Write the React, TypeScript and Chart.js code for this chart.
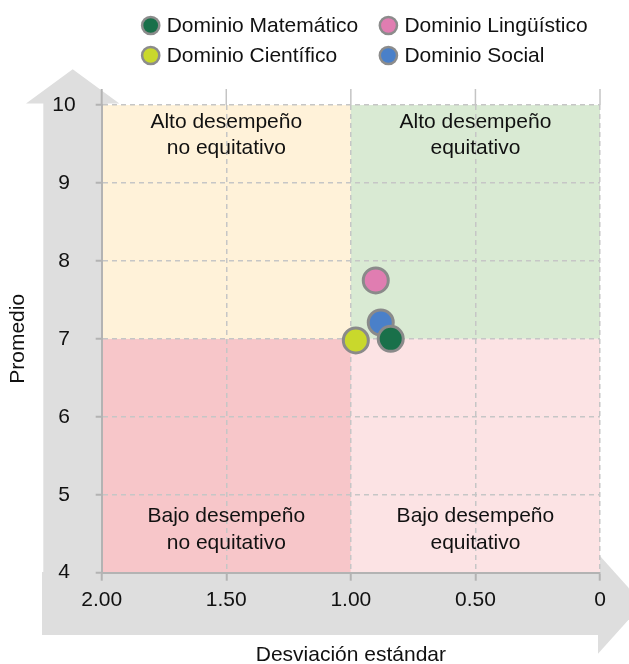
import React, { useEffect, useRef } from 'react';
import { Chart, registerables } from 'chart.js';

Chart.register(...registerables);

const FONT = '"Liberation Sans", Arial, Helvetica, sans-serif';

// ---- data ----
const seriesNames = ['Dominio Matemático', 'Dominio Lingüístico', 'Dominio Científico', 'Dominio Social'];
const seriesColors = ['#19704A', '#E07DB1', '#C9D82C', '#4A80C9'];
const stdDevValues = [0.84, 0.9, 0.98, 0.88];
const averageValues = [7.0, 7.75, 6.98, 7.21];

const xTickValues = [0, 0.5, 1, 1.5, 2];
const xTickLabels = ['0', '0.50', '1.00', '1.50', '2.00'];
const yTickValues = [4, 5, 6, 7, 8, 9, 10];
const yTickLabels = ['4', '5', '6', '7', '8', '9', '10'];

const xTitle = 'Desviación estándar';
const yTitle = 'Promedio';

const xThreshold = 1;
const yThreshold = 7;
const quadrantLines = [
  ['Alto desempeño', 'no equitativo'],
  ['Alto desempeño', 'equitativo'],
  ['Bajo desempeño', 'no equitativo'],
  ['Bajo desempeño', 'equitativo'],
];
const quadrantColors = ['#FFF2D9', '#D9EAD3', '#F7C6C9', '#FCE3E4'];

// ---- plugins ----
const backgroundPlugin = {
  id: 'quadrantBackground',
  beforeDraw(chart: any) {
    const { ctx, chartArea: ca, scales } = chart;
    const xs = scales.x;
    const ys = scales.y;
    ctx.save();
    // gray arrows
    ctx.fillStyle = '#DEDEDE';
    const shaftL = ca.left - 58.4;
    ctx.fillRect(shaftL, ca.top - 2, ca.left + 6 - shaftL, ca.bottom + 62.3 - (ca.top - 2));
    const cx = ca.left - 29;
    ctx.beginPath();
    ctx.moveTo(cx - 46.7, ca.top - 1.5);
    ctx.lineTo(cx, ca.top - 35.7);
    ctx.lineTo(cx + 46.7, ca.top - 1.5);
    ctx.closePath();
    ctx.fill();
    const hL = ca.left - 59.7;
    ctx.fillRect(hL, ca.bottom - 0.7, ca.right - 1 - hL, 63);
    const cy = ca.bottom + 31;
    ctx.beginPath();
    ctx.moveTo(ca.right - 2, cy - 50);
    ctx.lineTo(ca.right + 43, cy);
    ctx.lineTo(ca.right - 2, cy + 50);
    ctx.closePath();
    ctx.fill();

    // quadrants
    const xMid = xs.getPixelForValue(xThreshold);
    const yMid = ys.getPixelForValue(yThreshold);
    const xHigh = xs.getPixelForValue(xs.max); // left (reversed)
    const xLow = xs.getPixelForValue(xs.min); // right
    const yTop = ys.getPixelForValue(ys.max);
    const yBot = ys.getPixelForValue(ys.min);
    ctx.fillStyle = quadrantColors[0];
    ctx.fillRect(xHigh, yTop, xMid - xHigh, yMid - yTop);
    ctx.fillStyle = quadrantColors[1];
    ctx.fillRect(xMid, yTop, xLow - xMid, yMid - yTop);
    ctx.fillStyle = quadrantColors[2];
    ctx.fillRect(xHigh, yMid, xMid - xHigh, yBot - yMid);
    ctx.fillStyle = quadrantColors[3];
    ctx.fillRect(xMid, yMid, xLow - xMid, yBot - yMid);

    // marks above the plot
    ctx.strokeStyle = '#C4C4C4';
    ctx.lineWidth = 1.5;
    xTickValues.forEach((v) => {
      if (v === xs.max) return;
      const px = xs.getPixelForValue(v);
      ctx.beginPath();
      ctx.moveTo(px, ca.top - 16);
      ctx.lineTo(px, ca.top);
      ctx.stroke();
    });
    ctx.strokeStyle = '#B3B3B3';
    ctx.lineWidth = 2;
    const ax = xs.getPixelForValue(xs.max);
    ctx.beginPath();
    ctx.moveTo(ax, ca.top - 16);
    ctx.lineTo(ax, ca.top);
    ctx.stroke();
    ctx.restore();
  },
};

const quadrantLabelPlugin = {
  id: 'quadrantLabels',
  beforeDatasetsDraw(chart: any) {
    const { ctx, scales } = chart;
    const xs = scales.x;
    const ys = scales.y;
    const xMid = xs.getPixelForValue(xThreshold);
    const xHigh = xs.getPixelForValue(xs.max);
    const xLow = xs.getPixelForValue(xs.min);
    const yTop = ys.getPixelForValue(ys.max);
    const yBot = ys.getPixelForValue(ys.min);
    const lh = 26.6;
    ctx.save();
    ctx.font = `21px ${FONT}`;
    ctx.fillStyle = '#111';
    ctx.textAlign = 'center';
    ctx.textBaseline = 'middle';
    const centers = [(xHigh + xMid) / 2, (xMid + xLow) / 2];
    quadrantLines.forEach((lines, i) => {
      const cx = centers[i % 2];
      const top = i < 2;
      lines.forEach((t, j) => {
        const y = top ? yTop + 17 + j * lh : yBot - 29.7 - (lines.length - 1 - j) * lh;
        ctx.fillText(t, cx, y);
      });
    });
    ctx.restore();
  },
};

const gridLegendPlugin = {
  id: 'gridLegend',
  afterDraw(chart: any) {
    const { ctx, chartArea: ca } = chart;
    const datasets = chart.data.datasets;
    ctx.save();
    ctx.font = `21px ${FONT}`;
    ctx.textBaseline = 'middle';
    ctx.textAlign = 'left';
    let maxW = 0;
    datasets.forEach((d: any, i: number) => {
      if (i % 2 === 0) maxW = Math.max(maxW, ctx.measureText(d.label).width);
    });
    const col0 = ca.left + 49;
    const col1 = col0 + 16 + maxW + 30.3;
    datasets.forEach((d: any, i: number) => {
      const cx = i % 2 === 0 ? col0 : col1;
      const cy = ca.top - 79.5 + Math.floor(i / 2) * 30;
      ctx.beginPath();
      ctx.arc(cx, cy, 8.6, 0, Math.PI * 2);
      ctx.fillStyle = d.backgroundColor;
      ctx.fill();
      ctx.lineWidth = 2.5;
      ctx.strokeStyle = '#8C8C8C';
      ctx.stroke();
      ctx.fillStyle = '#111';
      ctx.fillText(d.label, cx + 16, cy + 1);
    });
    ctx.restore();
  },
};

export default function App() {
  const canvasRef = useRef<HTMLCanvasElement | null>(null);

  useEffect(() => {
    if (!canvasRef.current) return;
    Chart.defaults.font.family = FONT;
    const datasets = seriesNames.map((name, i) => ({
      label: name,
      data: [{ x: stdDevValues[i], y: averageValues[i] }],
      backgroundColor: seriesColors[i],
      borderColor: '#8A8A8A',
      borderWidth: 3,
      pointRadius: 12.5,
      pointHoverRadius: 12.5,
      pointBorderWidth: 3,
      pointHoverBorderWidth: 3,
    }));
    const chart = new Chart(canvasRef.current, {
      type: 'scatter',
      data: { datasets },
      options: {
        responsive: true,
        maintainAspectRatio: false,
        animation: false,
        events: [],
        layout: { padding: { top: 105, right: 29, bottom: 0, left: 0 } },
        plugins: {
          legend: { display: false },
          tooltip: { enabled: false },
        },
        scales: {
          x: {
            type: 'linear',
            min: 0,
            max: 2,
            reverse: true,
            afterBuildTicks: (s: any) => {
              s.ticks = xTickValues.map((v) => ({ value: v }));
            },
            afterFit: (s: any) => {
              s.height = 91.3;
            },
            ticks: {
              callback: (v: any) => {
                const k = xTickValues.indexOf(Number(v));
                return k >= 0 ? xTickLabels[k] : '';
              },
              font: { size: 21 },
              color: '#111',
              padding: 7,
              maxRotation: 0,
              autoSkip: false,
            },
            grid: {
              color: '#C6C6C6',
              lineWidth: 1.5,
              tickLength: 8,
              tickColor: '#B3B3B3',
              tickWidth: 2,
            },
            border: { display: true, color: '#B3B3B3', width: 2, dash: [5, 4] },
            title: {
              display: true,
              text: xTitle,
              font: { size: 21, lineHeight: 0.8 },
              color: '#111',
              padding: { top: 0, bottom: 0 },
            },
          },
          y: {
            type: 'linear',
            min: 4,
            max: 10,
            afterBuildTicks: (s: any) => {
              s.ticks = yTickValues.map((v) => ({ value: v }));
            },
            afterFit: (s: any) => {
              s.width = 101.7;
            },
            ticks: {
              callback: (v: any) => {
                const k = yTickValues.indexOf(Number(v));
                return k >= 0 ? yTickLabels[k] : '';
              },
              font: { size: 21 },
              color: '#111',
              padding: 20,
              crossAlign: 'center',
              autoSkip: false,
            },
            grid: {
              color: '#C6C6C6',
              lineWidth: 1.5,
              tickLength: 6,
              tickColor: '#B3B3B3',
              tickWidth: 2,
            },
            border: { display: true, color: '#B3B3B3', width: 2, dash: [5, 4] },
            title: {
              display: true,
              text: yTitle,
              font: { size: 21, lineHeight: 1 },
              color: '#111',
              padding: { top: 8, bottom: 0 },
            },
          },
        },
      } as any,
      plugins: [backgroundPlugin, quadrantLabelPlugin, gridLegendPlugin],
    });
    return () => chart.destroy();
  }, []);

  return (
    <div style={{ position: 'fixed', left: 0, top: 0, width: 629, height: 664, background: '#fff' }}>
      <canvas ref={canvasRef} />
    </div>
  );
}
